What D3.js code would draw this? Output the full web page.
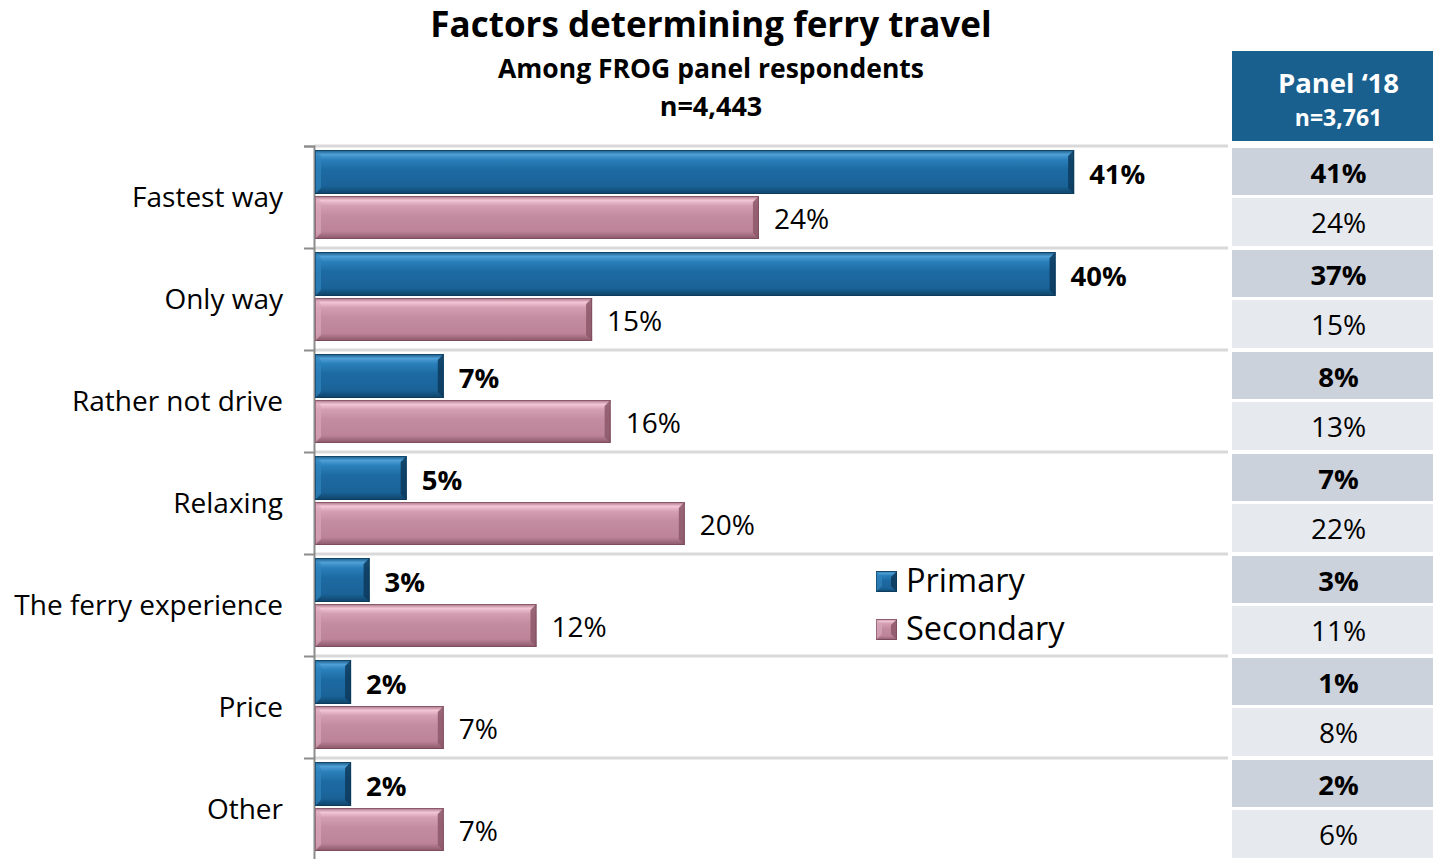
<!DOCTYPE html>
<html>
<head>
<meta charset="utf-8">
<script src="https://cdn.jsdelivr.net/npm/d3@7/dist/d3.min.js"></script>
<style>
  html, body { margin: 0; padding: 0; background: #ffffff; }
  svg { display: block; font-family: "Open Sans", "Noto Sans", sans-serif; }
</style>
</head>
<body>
<svg id="chart" width="1433" height="859"></svg>
<script>
// Reasons for choosing the ferry, share of respondents (%)
const categories = ["Fastest way", "Only way", "Rather not drive", "Relaxing", "The ferry experience", "Price", "Other"];
const primaryValues = [41, 40, 7, 5, 3, 2, 2];
const secondaryValues = [24, 15, 16, 20, 12, 7, 7];
// Comparison column: 2018 panel
const panelPrimary = [41, 37, 8, 7, 3, 1, 2];
const panelSecondary = [24, 15, 13, 22, 11, 8, 6];
const seriesNames = ["Primary", "Secondary"];

const svg = d3.select("#chart");

const x = d3.scaleLinear().domain([0, 50]).range([314, 1241]);
const y = d3.scaleBand().domain(categories).range([146, 860]).paddingInner(0).paddingOuter(0);
const band = y.bandwidth();

// Glossy fills for the bars
const palettes = {
  Primary:   { id: "gPrimary", stops: ["#15557f", "#4fa0d6", "#2a80ba", "#1d6aa2", "#1a6398", "#0f4266"],
               left: "#3185bd", right: "#0d3a5c", edge: "#0b3452" },
  Secondary: { id: "gSecondary", stops: ["#a56f82", "#f2c6d6", "#d49fb2", "#c48ca1", "#bd8499", "#8a5667"],
               left: "#d8a7b9", right: "#8c5869", edge: "#6e4052" }
};
const defs = svg.append("defs");
Object.values(palettes).forEach(p => {
  const g = defs.append("linearGradient").attr("id", p.id).attr("x1", 0).attr("y1", 0).attr("x2", 0).attr("y2", 1);
  [0, 0.1, 0.22, 0.45, 0.82, 1].forEach((o, k) =>
    g.append("stop").attr("offset", o).attr("stop-color", p.stops[k]));
});

// Titles
svg.append("text").attr("x", 711).attr("y", 37).attr("text-anchor", "middle")
  .attr("font-size", 35).attr("font-weight", 700).attr("fill", "#000")
  .text("Factors determining ferry travel");
svg.append("text").attr("x", 711).attr("y", 78).attr("text-anchor", "middle")
  .attr("font-size", 26.5).attr("font-weight", 700).attr("fill", "#000")
  .text("Among FROG panel respondents");
svg.append("text").attr("x", 711).attr("y", 116).attr("text-anchor", "middle")
  .attr("font-size", 27).attr("font-weight", 700).attr("fill", "#000")
  .text("n=4,443");

// Band separators
svg.append("g").selectAll("line").data(categories).join("line")
  .attr("x1", 314).attr("x2", 1228)
  .attr("y1", d => y(d)).attr("y2", d => y(d))
  .attr("stroke", "#d9d9d9").attr("stroke-width", 3);

// Category axis
const axis = d3.axisLeft(d3.scaleLinear().domain([0, categories.length]).range([146, 860]))
  .tickValues(d3.range(0, categories.length + 1)).tickSize(10).tickFormat("");
const gAxis = svg.append("g").attr("transform", "translate(314,0)").call(axis);
gAxis.select(".domain").attr("stroke", "#8c8c8c").attr("stroke-width", 2);
gAxis.selectAll(".tick line").attr("stroke", "#8c8c8c").attr("stroke-width", 2);

svg.append("g").selectAll("text").data(categories).join("text")
  .attr("x", 283).attr("y", d => y(d) + band / 2 + 10)
  .attr("text-anchor", "end").attr("font-size", 28).attr("fill", "#000")
  .text(d => d);

function drawBar(g, x0, x1, y0, h, pal) {
  const w = x1 - x0;
  const b = Math.min(6, w / 3, h / 3);
  g.append("rect").attr("x", x0).attr("y", y0).attr("width", w).attr("height", h).attr("fill", `url(#${pal.id})`);
  const poly = pts => g.append("polygon").attr("points", pts.map(p => p.join(",")).join(" "));
  poly([[x0, y0], [x0 + b, y0 + b], [x0 + b, y0 + h - b], [x0, y0 + h]]).attr("fill", pal.left).attr("opacity", 0.7);
  poly([[x1, y0], [x1 - b, y0 + b], [x1 - b, y0 + h - b], [x1, y0 + h]]).attr("fill", pal.right).attr("opacity", 0.85);
  g.append("rect").attr("x", x0 + 0.5).attr("y", y0 + 0.5).attr("width", w - 1).attr("height", h - 1)
    .attr("fill", "none").attr("stroke", pal.edge).attr("stroke-width", 1).attr("opacity", 0.55);
}

const barH = 44;
const barsG = svg.append("g");
categories.forEach((c, i) => {
  const top = y(c);
  drawBar(barsG.append("g"), x(0) + 1, x(primaryValues[i]), top + 4, barH, palettes.Primary);
  drawBar(barsG.append("g"), x(0) + 1, x(secondaryValues[i]), top + 50, barH - 1, palettes.Secondary);
});

// Value labels
svg.append("g").selectAll("text").data(categories).join("text")
  .attr("x", (d, i) => x(primaryValues[i]) + 15).attr("y", d => y(d) + 38)
  .attr("font-size", 27.5).attr("font-weight", 700).attr("fill", "#000")
  .text((d, i) => primaryValues[i] + "%");
svg.append("g").selectAll("text").data(categories).join("text")
  .attr("x", (d, i) => x(secondaryValues[i]) + 15).attr("y", d => y(d) + 83)
  .attr("font-size", 28).attr("fill", "#000")
  .text((d, i) => secondaryValues[i] + "%");

// Legend
const legend = svg.append("g");
seriesNames.forEach((s, i) => {
  const ly = 571 + i * 48;
  drawBar(legend.append("g"), 876, 897, ly, 21, palettes[s]);
  legend.append("text").attr("x", 906).attr("y", ly + 21).attr("font-size", 32.5).attr("fill", "#000").text(s);
});

// Comparison column
const colX = 1232, colW = 201;
svg.append("rect").attr("x", colX).attr("y", 51).attr("width", colW).attr("height", 90).attr("fill", "#19608f");
svg.append("text").attr("x", colX + colW / 2 + 6).attr("y", 93).attr("text-anchor", "middle")
  .attr("font-size", 27.5).attr("font-weight", 700).attr("fill", "#fff").text("Panel \u201818");
svg.append("text").attr("x", colX + colW / 2 + 6).attr("y", 126).attr("text-anchor", "middle")
  .attr("font-size", 23).attr("font-weight", 700).attr("fill", "#fff").text("n=3,761");

const tbl = svg.append("g");
categories.forEach((c, i) => {
  const top = y(c);
  tbl.append("rect").attr("x", colX).attr("y", top + 2).attr("width", colW).attr("height", 47).attr("fill", "#ccd2dc");
  tbl.append("rect").attr("x", colX).attr("y", top + 52).attr("width", colW).attr("height", 48).attr("fill", "#e6e9ee");
  tbl.append("text").attr("x", colX + colW / 2 + 6).attr("y", top + 37).attr("text-anchor", "middle")
    .attr("font-size", 27.5).attr("font-weight", 700).attr("fill", "#000").text(panelPrimary[i] + "%");
  tbl.append("text").attr("x", colX + colW / 2 + 6).attr("y", top + 87).attr("text-anchor", "middle")
    .attr("font-size", 28).attr("fill", "#000").text(panelSecondary[i] + "%");
});
</script>
</body>
</html>
